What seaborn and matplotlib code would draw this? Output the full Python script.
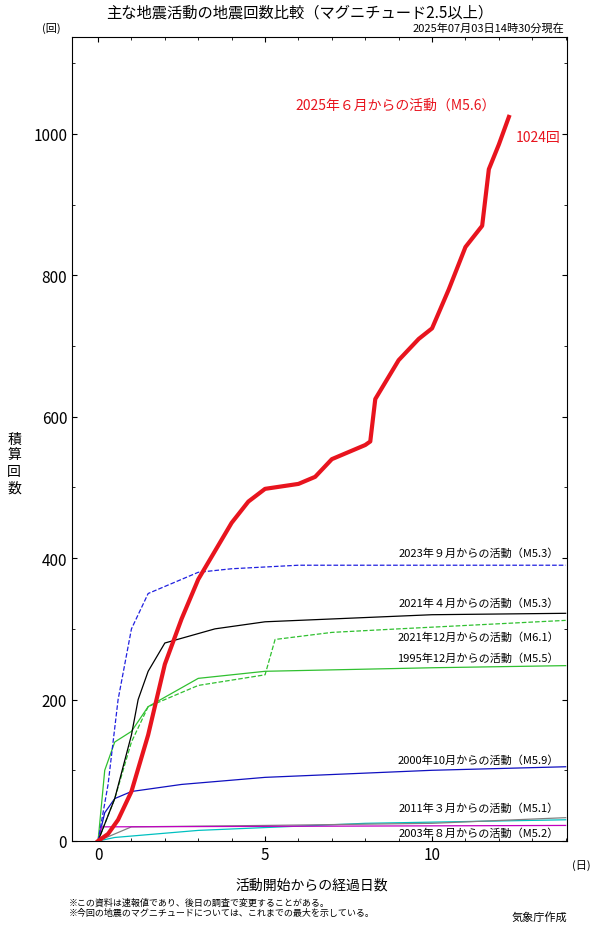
import matplotlib
matplotlib.use("Agg")
import matplotlib.pyplot as plt
import seaborn as sns
import pandas as pd

plt.rcParams["font.family"] = "Noto Sans CJK JP"

# (days, cumulative count)
red_days = [0, 0.3, 0.6, 1.0, 1.5, 2.0, 2.5, 3.0, 3.5, 4.0, 4.5, 5.0, 6.0, 6.5, 7.0, 8.0, 8.15, 8.3, 9.0, 9.6, 10.0, 10.5, 11.0, 11.5, 11.7, 12.0, 12.3]
red_vals = [0, 10, 30, 70, 150, 250, 314, 370, 410, 450, 480, 498, 505, 515, 540, 560, 565, 625, 680, 710, 725, 780, 840, 870, 950, 985, 1024]
b23_days = [0, 0.3, 0.6, 1.0, 1.5, 2.0, 3.0, 4.0, 6.0, 10.0, 14.0]
b23_vals = [0, 80, 200, 300, 350, 360, 380, 385, 390, 390, 390]
k21_days = [0, 0.5, 1.0, 1.2, 1.5, 2.0, 3.5, 5.0, 10.0, 14.0]
k21_vals = [0, 60, 150, 200, 240, 280, 300, 310, 320, 322]
g21_days = [0, 0.5, 1.0, 1.5, 3.0, 5.0, 5.3, 7.0, 9.0, 14.0]
g21_vals = [0, 60, 140, 190, 220, 235, 285, 295, 300, 312]
g95_days = [0, 0.2, 0.5, 1.0, 1.5, 3.0, 5.0, 10.0, 14.0]
g95_vals = [0, 100, 140, 155, 190, 230, 240, 245, 248]
b00_days = [0, 0.2, 0.5, 1.0, 2.5, 5.0, 10.0, 14.0]
b00_vals = [0, 40, 60, 70, 80, 90, 100, 105]
c11_days = [0, 0.5, 3.0, 8.0, 14.0]
c11_vals = [0, 5, 15, 25, 30]
m03_days = [0, 0.1, 14.0]
m03_vals = [0, 20, 22]
gr_days = [0, 1.0, 5.0, 10.0, 14.0]
gr_vals = [0, 20, 22, 25, 33]

series = [
    (b00_days, b00_vals, "#1010c0", "-", 0.9),
    (c11_days, c11_vals, "#00c0c0", "-", 0.9),
    (gr_days, gr_vals, "#808080", "-", 0.9),
    (m03_days, m03_vals, "#c000c0", "-", 0.9),
    (g95_days, g95_vals, "#30c030", "-", 0.9),
    (g21_days, g21_vals, "#30c030", "--", 0.9),
    (k21_days, k21_vals, "black", "-", 0.9),
    (b23_days, b23_vals, "#2020e0", "--", 0.9),
    (red_days, red_vals, "#e8141e", "-", 3.0),
]

fig = plt.figure(figsize=(6, 9.28), dpi=100)
ax = fig.add_axes([72 / 600, 1 - 842 / 928, 495 / 600, 804 / 928])
for d, v, c, ls, lw in series:
    df = pd.DataFrame({"day": d, "n": v})
    sns.lineplot(data=df, x="day", y="n", ax=ax, color=c, linestyle=ls, linewidth=lw)

ax.set_xlim(-0.78, 14.04)
ax.set_ylim(0, 1137)
ax.set_xticks([0, 5, 10])
ax.set_xticks(range(0, 15), minor=True)
ax.set_yticks([0, 200, 400, 600, 800, 1000])
ax.set_yticks(range(0, 1137, 100), minor=True)
ax.tick_params(direction="in", labelsize=11, top=True, right=True, which="both")
ax.set_xlabel("")
ax.set_ylabel("")

fig.text(0.5, 0.995, "主な地震活動の地震回数比較（マグニチュード2.5以上）", ha="center", va="top", fontsize=11)
fig.text(0.94, 0.975, "2025年07月03日14時30分現在", ha="right", va="top", fontsize=8)
fig.text(0.07, 0.975, "(回)", ha="left", va="top", fontsize=8)
fig.text(0.985, 0.067, "(日)", ha="right", va="center", fontsize=8)
fig.text(0.012, 0.5, "積\n算\n回\n数", ha="left", va="center", fontsize=10, linespacing=1.2)
fig.text(0.52, 0.046, "活動開始からの経過日数", ha="center", va="center", fontsize=10)
fig.text(0.115, 0.027, "※この資料は速報値であり、後日の調査で変更することがある。", fontsize=6.5, va="center")
fig.text(0.115, 0.016, "※今回の地震のマグニチュードについては、これまでの最大を示している。", fontsize=6.5, va="center")
fig.text(0.945, 0.008, "気象庁作成", ha="right", fontsize=8)

ax.text(11.9, 1035, "2025年６月からの活動（M5.6）", color="#e8141e", ha="right", fontsize=10)
ax.text(12.5, 990, "1024回", color="#e8141e", ha="left", fontsize=10)
labels = [(400, "2023年９月からの活動（M5.3）"), (330, "2021年４月からの活動（M5.3）"),
          (282, "2021年12月からの活動（M6.1）"), (252, "1995年12月からの活動（M5.5）"),
          (108, "2000年10月からの活動（M5.9）"), (40, "2011年３月からの活動（M5.1）"),
          (5, "2003年８月からの活動（M5.2）")]
for y, t in labels:
    ax.text(13.8, y, t, ha="right", va="bottom", fontsize=8)

fig.savefig("out.png", dpi=100)
